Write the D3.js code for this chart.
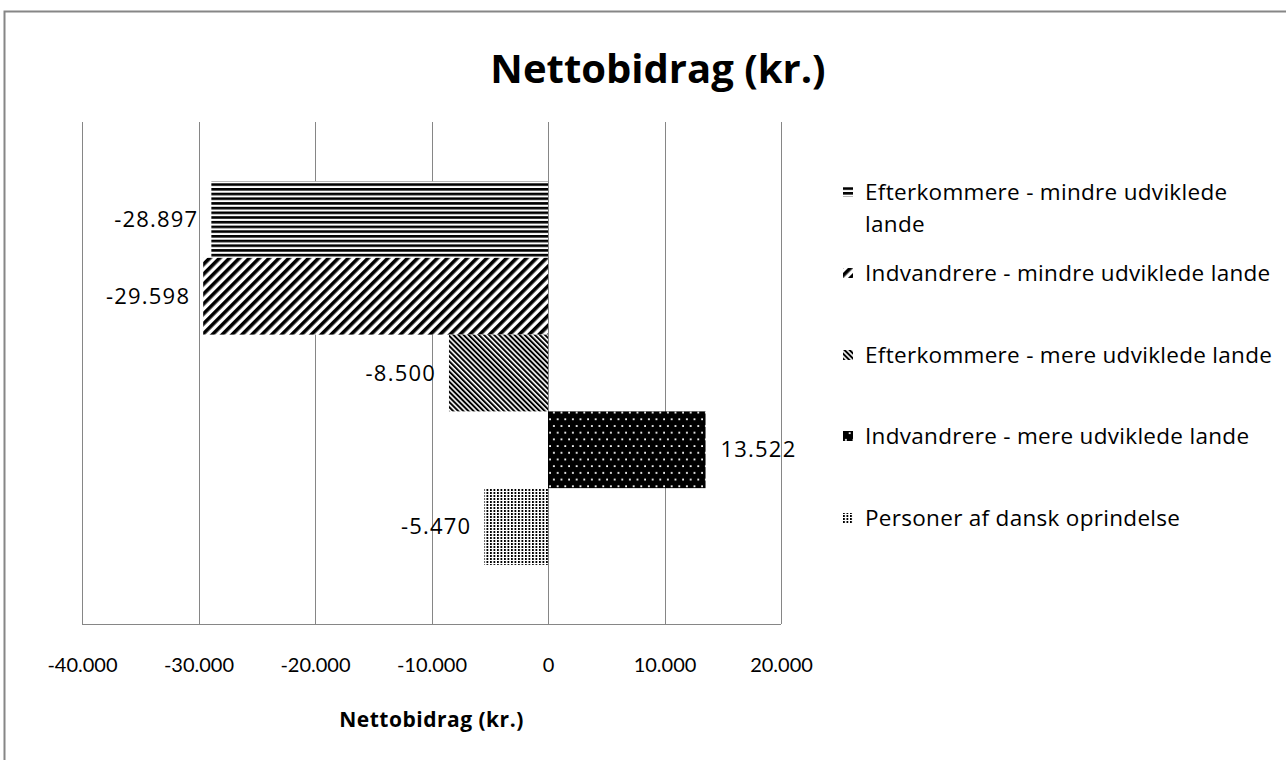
<!DOCTYPE html>
<html>
<head>
<meta charset="utf-8">
<script src="https://cdn.jsdelivr.net/npm/d3@7"></script>
<style>
  body { margin: 0; background: #fff; }
  svg text { font-family: Lato, "Open Sans", sans-serif; fill: #000; }
</style>
</head>
<body>
<script>
// data, top bar first
const seriesNames = [
  "Efterkommere - mindre udviklede lande",
  "Indvandrere - mindre udviklede lande",
  "Efterkommere - mere udviklede lande",
  "Indvandrere - mere udviklede lande",
  "Personer af dansk oprindelse"
];
const seriesValues = [-28897, -29598, -8500, 13522, -5470];
const patternIds = ["hstripe", "updiag", "downdiag", "dots", "vdash"];
const xTicks = [-40000, -30000, -20000, -10000, 0, 10000, 20000];
const titleText = "Nettobidrag (kr.)";
const axisTitle = "Nettobidrag (kr.)";

const width = 1286, height = 760;

const da = d3.formatLocale({decimal: ",", thousands: ".", grouping: [3], currency: ["", " kr."], minus: "-"});
const fmt = da.format(",d");

let svg = d3.select("body").append("svg")
  .attr("width", width)
  .attr("height", height);

// fill patterns
const defs = svg.append("defs");

let p = defs.append("pattern").attr("id", "hstripe")
  .attr("patternUnits", "userSpaceOnUse").attr("width", 8).attr("height", 4.7);
p.append("rect").attr("width", 8).attr("height", 4.7).attr("fill", "#fff");
p.append("rect").attr("width", 8).attr("height", 2.6).attr("fill", "#000");

p = defs.append("pattern").attr("id", "updiag")
  .attr("patternUnits", "userSpaceOnUse").attr("width", 7).attr("height", 7)
  .attr("patternTransform", "rotate(45)");
p.append("rect").attr("width", 7).attr("height", 7).attr("fill", "#fff");
p.append("rect").attr("width", 3.6).attr("height", 7).attr("fill", "#000");

p = defs.append("pattern").attr("id", "downdiag")
  .attr("patternUnits", "userSpaceOnUse").attr("width", 3.6).attr("height", 6)
  .attr("patternTransform", "rotate(-45)");
p.append("rect").attr("width", 3.6).attr("height", 6).attr("fill", "#fff");
p.append("rect").attr("width", 2).attr("height", 6).attr("fill", "#000");

p = defs.append("pattern").attr("id", "dots")
  .attr("patternUnits", "userSpaceOnUse").attr("width", 7.6).attr("height", 13.4);
p.append("rect").attr("width", 7.6).attr("height", 13.4).attr("fill", "#000");
p.append("rect").attr("x", 2).attr("y", 3).attr("width", 1.8).attr("height", 1.8).attr("fill", "#fff");
p.append("rect").attr("x", 5.8).attr("y", 9.7).attr("width", 1.8).attr("height", 1.8).attr("fill", "#fff");

p = defs.append("pattern").attr("id", "vdash")
  .attr("patternUnits", "userSpaceOnUse").attr("width", 3.5).attr("height", 3);
p.append("rect").attr("width", 3.5).attr("height", 3).attr("fill", "#fff");
p.append("rect").attr("width", 1.8).attr("height", 2).attr("fill", "#000");

// outer frame
svg.append("rect")
  .attr("x", 4.5).attr("y", 11.5)
  .attr("width", 1300).attr("height", 800)
  .attr("fill", "none").attr("stroke", "#868686").attr("stroke-width", 2);

const plot = {left: 82, right: 781, top: 122, bottom: 624};

const x = d3.scaleLinear().domain([-40000, 20000]).range([plot.left, plot.right]);
const y = d3.scaleBand().domain(seriesNames).range([plot.top, plot.bottom])
  .paddingInner(0).paddingOuter(0.77);

// gridlines
svg.append("g")
  .selectAll("line")
  .data(xTicks)
  .join("line")
    .attr("x1", d => Math.round(x(d)) + 0.5)
    .attr("x2", d => Math.round(x(d)) + 0.5)
    .attr("y1", plot.top)
    .attr("y2", plot.bottom)
    .attr("stroke", "#868686")
    .attr("stroke-width", 1);

// bars
svg.append("g")
  .selectAll("rect")
  .data(seriesNames)
  .join("rect")
    .attr("x", (d, i) => x(Math.min(0, seriesValues[i])))
    .attr("y", d => y(d))
    .attr("width", (d, i) => Math.abs(x(seriesValues[i]) - x(0)))
    .attr("height", y.bandwidth())
    .attr("fill", (d, i) => `url(#${patternIds[i]})`);

// x axis
const xAxis = d3.axisBottom(x).tickValues(xTicks).tickSize(0).tickPadding(34).tickFormat(fmt);
const gx = svg.append("g")
  .attr("transform", `translate(0,${plot.bottom})`)
  .call(xAxis);
gx.select(".domain").attr("stroke", "#868686").attr("d", `M${plot.left},0.5H${plot.right}`);
gx.selectAll("text")
  .style("font-family", "Lato, sans-serif")
  .attr("font-size", 20)
  .attr("fill", "#000");

// data labels
svg.append("g")
  .selectAll("text")
  .data(seriesNames)
  .join("text")
    .attr("x", (d, i) => seriesValues[i] < 0 ? x(seriesValues[i]) - 13 : x(seriesValues[i]) + 15)
    .attr("y", d => y(d) + y.bandwidth() / 2)
    .attr("dy", "0.35em")
    .attr("text-anchor", (d, i) => seriesValues[i] < 0 ? "end" : "start")
    .style("font-family", "'Open Sans', sans-serif")
    .attr("font-size", 22)
    .attr("letter-spacing", 1.2)
    .text((d, i) => fmt(seriesValues[i]));

// title
svg.append("text")
  .attr("x", 658).attr("y", 83)
  .attr("text-anchor", "middle")
  .style("font-family", "'Open Sans', sans-serif")
  .attr("font-size", 40)
  .attr("font-weight", "bold")
  .text(titleText);

// axis title
svg.append("text")
  .attr("x", (plot.left + plot.right) / 2).attr("y", 727)
  .attr("text-anchor", "middle")
  .style("font-family", "'Open Sans', sans-serif")
  .attr("font-size", 21)
  .attr("font-weight", "bold")
  .attr("letter-spacing", 0.5)
  .text(axisTitle);

// legend
const legendRows = [
  {lines: ["Efterkommere - mindre udviklede", "lande"], y: 192},
  {lines: ["Indvandrere - mindre udviklede lande"], y: 273},
  {lines: ["Efterkommere - mere udviklede lande"], y: 355},
  {lines: ["Indvandrere - mere udviklede lande"], y: 436},
  {lines: ["Personer af dansk oprindelse"], y: 518}
];
const lg = svg.append("g").selectAll("g")
  .data(legendRows)
  .join("g")
    .attr("transform", d => `translate(843,${d.y})`);
lg.append("rect")
  .attr("x", 0).attr("y", -5)
  .attr("width", 10).attr("height", 10)
  .attr("fill", (d, i) => `url(#${patternIds[i]})`);
lg.each(function(d) {
  const t = d3.select(this).append("text")
    .attr("x", 22).attr("y", 0)
    .style("font-family", "'Open Sans', sans-serif")
    .attr("font-size", 22.5)
    .attr("letter-spacing", 0.3);
  d.lines.forEach((ln, k) => {
    t.append("tspan").attr("x", 22).attr("dy", k === 0 ? "0.35em" : 32).text(ln);
  });
});
</script>
</body>
</html>
